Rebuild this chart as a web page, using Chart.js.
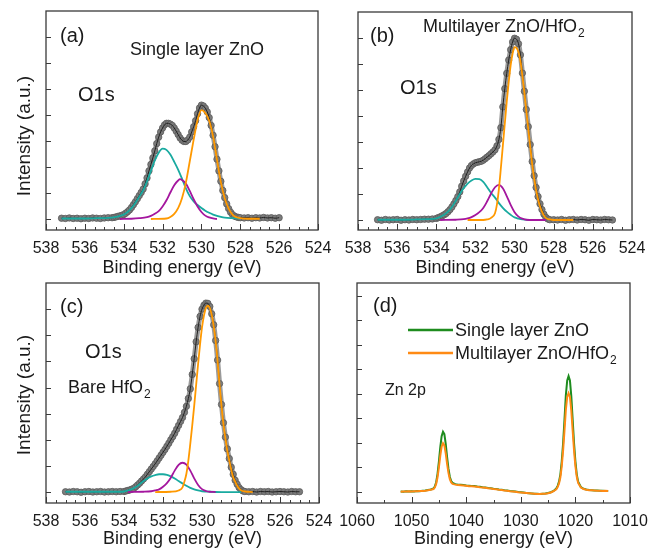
<!DOCTYPE html>
<html lang="en">
<head>
<meta charset="UTF-8" />
<title>XPS O1s and Zn 2p spectra</title>
<script src="https://cdn.jsdelivr.net/npm/chart.js@4"></script>
<style>
  body { margin: 0; background: #fff; }
  #wrap { position: relative; width: 657px; height: 554px; }
  #wrap canvas { position: absolute; left: 0; top: 0; }
</style>
</head>
<body>
<div id="wrap">
  <canvas id="pa" width="657" height="554"></canvas>
  <canvas id="pb" width="657" height="554"></canvas>
  <canvas id="pc" width="657" height="554"></canvas>
  <canvas id="pd" width="657" height="554"></canvas>
</div>
<script>
// (a) single layer ZnO, O1s: measured points
const eA = [537.2, 537.0, 536.8, 536.6, 536.4, 536.2, 536.0, 535.8, 535.6, 535.4, 535.2, 535.0, 534.8, 534.6,
  534.5, 534.4, 534.3, 534.2, 534.1, 534.0, 533.9, 533.8, 533.7, 533.6, 533.5, 533.4, 533.3, 533.2, 533.1, 533.0,
  532.9, 532.8, 532.7, 532.6, 532.5, 532.4, 532.3, 532.2, 532.1, 532.0,
  531.9, 531.8, 531.7, 531.6, 531.5, 531.4, 531.3, 531.2, 531.1, 531.0,
  530.9, 530.8, 530.7, 530.6, 530.5, 530.4, 530.3, 530.2, 530.1, 530.0,
  529.9, 529.8, 529.7, 529.6, 529.5, 529.4, 529.3, 529.2, 529.1, 529.0,
  528.9, 528.8, 528.7, 528.6, 528.5, 528.4, 528.3, 528.2, 528.1, 528.0,
  527.8, 527.6, 527.4, 527.2, 527.0, 526.8, 526.6, 526.4, 526.2, 526.0];
const iA = [0.03, 0.02, 0.04, 0.02, 0.03, 0.01, 0.03, 0.02, 0.04, 0.03, 0.02, 0.04, 0.05, 0.05,
  0.06, 0.08, 0.10, 0.12, 0.14, 0.17, 0.22, 0.28, 0.35, 0.44, 0.55, 0.66, 0.78, 0.90, 1.02, 1.15,
  1.35, 1.58, 1.85, 2.10, 2.35, 2.62, 2.90, 3.15, 3.35, 3.50,
  3.62, 3.68, 3.68, 3.65, 3.60, 3.50, 3.38, 3.25, 3.12, 3.03,
  2.98, 2.98, 3.04, 3.15, 3.35, 3.55, 3.78, 4.05, 4.27, 4.38,
  4.35, 4.26, 4.12, 3.90, 3.60, 3.22, 2.78, 2.30, 1.85, 1.45,
  1.10, 0.82, 0.58, 0.40, 0.26, 0.17, 0.11, 0.08, 0.06, 0.05,
  0.04, 0.05, 0.03, 0.05, 0.04, 0.06, 0.04, 0.05, 0.03, 0.05];
// (a) fitted components
const eA1 = [537.2, 536.6, 536.0, 535.4, 534.8, 534.4, 534.2, 534.0, 533.8, 533.6, 533.4, 533.2, 533.0, 532.8, 532.6, 532.4, 532.2, 532.0,
  531.8, 531.6, 531.4, 531.2, 531.0, 530.8, 530.6, 530.4, 530.2, 530.0, 529.8, 529.6, 529.4, 529.2, 529.0, 528.8, 528.4, 528.0];
const iA1 = [0.02, 0.02, 0.02, 0.03, 0.04, 0.08, 0.12, 0.17, 0.27, 0.42, 0.62, 0.86, 1.10, 1.45, 1.85, 2.25, 2.55, 2.71,
  2.66, 2.48, 2.20, 1.90, 1.55, 1.18, 0.88, 0.68, 0.54, 0.42, 0.32, 0.24, 0.17, 0.12, 0.08, 0.05, 0.03, 0.02];
const eA2 = [534.2, 533.6, 533.2, 532.8, 532.6, 532.4, 532.2, 532.0, 531.8, 531.6, 531.4, 531.2, 531.1, 531.0, 530.8, 530.6, 530.4, 530.2, 530.0, 529.8, 529.6, 529.4, 529.2];
const iA2 = [0.0, 0.01, 0.03, 0.07, 0.12, 0.20, 0.30, 0.48, 0.72, 1.02, 1.30, 1.48, 1.53, 1.50, 1.36, 1.08, 0.76, 0.48, 0.27, 0.13, 0.06, 0.02, 0.0];
const eA3 = [532.6, 531.8, 531.6, 531.4, 531.2, 531.0, 530.8, 530.6, 530.4, 530.2, 530.0, 529.8, 529.6, 529.4, 529.2, 529.0, 528.8, 528.6, 528.4, 528.2, 528.0, 527.6, 527.0];
const iA3 = [0.0, 0.02, 0.08, 0.20, 0.42, 0.80, 1.40, 2.22, 3.05, 3.80, 4.19, 4.08, 3.78, 3.18, 2.28, 1.42, 0.80, 0.40, 0.17, 0.07, 0.03, 0.01, 0.01];

// (b) multilayer ZnO/HfO2, O1s
const eB = [537.0, 536.8, 536.6, 536.4, 536.2, 536.0, 535.8, 535.6, 535.4, 535.2, 535.0, 534.8, 534.6, 534.4, 534.2,
  534.0, 533.9, 533.8, 533.7, 533.6, 533.5, 533.4, 533.3, 533.2, 533.1,
  533.0, 532.9, 532.8, 532.7, 532.6, 532.5, 532.4, 532.3, 532.2, 532.1,
  532.0, 531.9, 531.8, 531.7, 531.6, 531.5, 531.4, 531.3, 531.2, 531.1,
  531.0, 530.9, 530.8, 530.7, 530.6, 530.5, 530.4, 530.3, 530.2, 530.1,
  530.0, 529.9, 529.8, 529.7, 529.6, 529.5, 529.4, 529.3, 529.2, 529.1,
  529.0, 528.9, 528.8, 528.7, 528.6, 528.5, 528.4, 528.3, 528.2,
  528.0, 527.8, 527.6, 527.4, 527.2, 527.0, 526.8, 526.6, 526.4, 526.2, 526.0, 525.8, 525.6, 525.4, 525.2, 525.0];
const iB = [0.01, -0.01, 0.02, 0.0, 0.01, 0.02, -0.01, 0.01, 0.0, 0.02, 0.01, 0.02, 0.03, 0.03, 0.04,
  0.06, 0.09, 0.12, 0.16, 0.20, 0.25, 0.32, 0.40, 0.50, 0.62,
  0.75, 0.90, 1.08, 1.30, 1.50, 1.68, 1.85, 2.00, 2.10, 2.16,
  2.20, 2.22, 2.24, 2.26, 2.30, 2.36, 2.42, 2.48, 2.55, 2.62,
  2.70, 2.85, 3.10, 3.55, 4.35, 5.05, 5.64, 6.15, 6.55, 6.85,
  6.99, 6.95, 6.78, 6.35, 5.65, 4.95, 4.25, 3.59, 2.90, 2.25,
  1.70, 1.25, 0.90, 0.62, 0.40, 0.22, 0.10, 0.04, 0.01,
  0.01, 0.0, 0.02, -0.01, 0.01, 0.02, 0.0, 0.02, 0.01, -0.01, 0.02, 0.01, 0.0, 0.02, 0.01, 0.0];
const eB1 = [537.0, 536.0, 535.0, 534.4, 534.2, 534.0, 533.8, 533.6, 533.4, 533.2, 533.0, 532.8, 532.6, 532.4, 532.2,
  532.0, 531.8, 531.6, 531.4, 531.2, 531.0, 530.8, 530.6, 530.4, 530.2, 530.0, 529.8, 529.6, 529.0, 528.4];
const iB1 = [0.01, 0.01, 0.02, 0.03, 0.04, 0.06, 0.12, 0.20, 0.32, 0.50, 0.74, 1.00, 1.22, 1.40, 1.52,
  1.58, 1.57, 1.47, 1.26, 1.04, 0.86, 0.65, 0.47, 0.32, 0.20, 0.10, 0.05, 0.02, 0.0, 0.0];
const eB2 = [533.8, 533.0, 532.6, 532.4, 532.2, 532.0, 531.8, 531.6, 531.4, 531.2, 531.0, 530.8, 530.6, 530.4, 530.2, 530.0, 529.8, 529.6, 529.4, 529.0, 528.4];
const iB2 = [0.0, 0.01, 0.03, 0.06, 0.11, 0.19, 0.30, 0.46, 0.72, 1.02, 1.26, 1.35, 1.22, 0.92, 0.58, 0.30, 0.13, 0.05, 0.01, 0.0, 0.0];
const eB3 = [532.4, 531.6, 531.4, 531.2, 531.0, 530.9, 530.8, 530.7, 530.6, 530.5, 530.4, 530.3, 530.2, 530.1, 530.0,
  529.9, 529.8, 529.7, 529.6, 529.5, 529.4, 529.3, 529.2, 529.1, 529.0, 528.9, 528.8, 528.7, 528.6, 528.5, 528.4, 528.2, 528.0, 527.0];
const iB3 = [0.0, 0.0, 0.02, 0.08, 0.26, 0.60, 1.20, 2.00, 2.85, 3.70, 4.55, 5.30, 5.95, 6.40, 6.65,
  6.62, 6.45, 6.10, 5.55, 4.90, 4.20, 3.50, 2.80, 2.15, 1.60, 1.15, 0.80, 0.52, 0.32, 0.17, 0.08, 0.02, 0.0, 0.0];

// (c) bare HfO2, O1s
const eC = [537.0, 536.8, 536.6, 536.4, 536.2, 536.0, 535.8, 535.6, 535.4, 535.2, 535.0, 534.8, 534.6, 534.4, 534.2,
  534.0, 533.9, 533.8, 533.7, 533.6, 533.5, 533.4, 533.3, 533.2, 533.1,
  533.0, 532.9, 532.8, 532.7, 532.6, 532.5, 532.4, 532.3, 532.2, 532.1,
  532.0, 531.9, 531.8, 531.7, 531.6, 531.5, 531.4, 531.3, 531.2, 531.1,
  531.0, 530.9, 530.8, 530.7, 530.6, 530.5, 530.4, 530.3, 530.2, 530.1,
  530.0, 529.9, 529.8, 529.7, 529.6, 529.5, 529.4, 529.3, 529.2, 529.1,
  529.0, 528.9, 528.8, 528.7, 528.6, 528.5, 528.4, 528.3, 528.2, 528.1, 528.0, 527.9,
  527.8, 527.6, 527.4, 527.2, 527.0, 526.8, 526.6, 526.4, 526.2, 526.0, 525.8, 525.6, 525.4, 525.2, 525.0];
const iC = [0.01, 0.0, 0.02, 0.01, -0.01, 0.01, 0.02, 0.0, 0.01, 0.02, 0.0, 0.01, 0.02, 0.01, 0.02,
  0.02, 0.04, 0.06, 0.08, 0.11, 0.14, 0.20, 0.27, 0.34, 0.42,
  0.50, 0.58, 0.68, 0.78, 0.88, 0.98, 1.08, 1.19, 1.30, 1.41,
  1.52, 1.63, 1.75, 1.87, 2.00, 2.12, 2.25, 2.40, 2.55, 2.70,
  2.85, 3.05, 3.28, 3.58, 3.95, 4.50, 5.10, 5.75, 6.30, 6.72,
  7.00, 7.15, 7.23, 7.22, 7.10, 6.82, 6.40, 5.80, 5.05, 4.15,
  3.35, 2.65, 2.10, 1.65, 1.28, 0.95, 0.68, 0.45, 0.30, 0.17, 0.09, 0.04,
  0.02, 0.01, 0.02, 0.0, 0.02, 0.01, 0.02, 0.0, 0.01, 0.02, 0.01, 0.0, 0.02, 0.01, 0.01];
const eC1 = [537.0, 536.0, 535.0, 534.4, 534.2, 534.0, 533.8, 533.6, 533.4, 533.2, 533.0, 532.8, 532.6, 532.4, 532.2,
  532.0, 531.8, 531.6, 531.4, 531.2, 531.0, 530.8, 530.6, 530.4, 530.2, 530.0, 529.6, 529.0, 528.0];
const iC1 = [0.01, 0.01, 0.01, 0.01, 0.01, 0.02, 0.06, 0.11, 0.19, 0.30, 0.42, 0.52, 0.60, 0.65, 0.68,
  0.68, 0.66, 0.60, 0.52, 0.42, 0.33, 0.24, 0.16, 0.10, 0.06, 0.03, 0.01, 0.0, 0.0];
const eC2 = [533.8, 533.0, 532.6, 532.4, 532.2, 532.0, 531.8, 531.6, 531.4, 531.2, 531.0, 530.8, 530.6, 530.4, 530.2, 530.0, 529.8, 529.6, 529.3];
const iC2 = [0.0, 0.01, 0.03, 0.06, 0.10, 0.20, 0.34, 0.55, 0.82, 1.04, 1.12, 1.05, 0.82, 0.52, 0.27, 0.11, 0.04, 0.01, 0.0];
const eC3 = [532.4, 531.6, 531.2, 531.0, 530.9, 530.8, 530.7, 530.6, 530.5, 530.4, 530.3, 530.2, 530.1, 530.0,
  529.9, 529.8, 529.7, 529.6, 529.5, 529.4, 529.3, 529.2, 529.1, 529.0,
  528.9, 528.8, 528.7, 528.6, 528.5, 528.4, 528.3, 528.2, 528.1, 528.0, 527.8, 527.4];
const iC3 = [0.0, 0.01, 0.06, 0.18, 0.40, 0.70, 1.20, 1.85, 2.55, 3.30, 4.10, 4.90, 5.65, 6.30,
  6.75, 7.05, 7.13, 7.05, 6.78, 6.35, 5.77, 5.00, 4.10, 3.30,
  2.60, 2.05, 1.57, 1.20, 0.86, 0.57, 0.40, 0.25, 0.14, 0.07, 0.02, 0.0];

// (d) Zn 2p, both samples on one energy grid
const eD = [1052, 1051.5, 1051, 1050.5, 1050, 1049.5, 1049, 1048.5, 1048, 1047.5,
  1047, 1046.5, 1046, 1045.75, 1045.5, 1045.25, 1045, 1044.75, 1044.5, 1044.25,
  1044, 1043.75, 1043.5, 1043.25, 1043, 1042.75, 1042.5, 1042, 1041.5, 1041,
  1040.5, 1040, 1039.5, 1039, 1038.5, 1038, 1037.5, 1037, 1036.5, 1036,
  1035.5, 1035, 1034.5, 1034, 1033.5, 1033, 1032.5, 1032, 1031.5, 1031,
  1030.5, 1030, 1029.5, 1029, 1028.5, 1028, 1027.5, 1027, 1026.5, 1026,
  1025.5, 1025, 1024.5, 1024, 1023.5, 1023.25, 1023, 1022.75, 1022.5, 1022.25,
  1022, 1021.75, 1021.5, 1021.25, 1021, 1020.75, 1020.5, 1020.25, 1020, 1019.75,
  1019.5, 1019, 1018.5, 1018, 1017.5, 1017, 1016.5, 1016, 1015.5, 1015,
  1014.5, 1014];
const singleZn = [0.02, 0.01, 0.03, 0.02, 0.03, 0.02, 0.04, 0.03, 0.05, 0.06,
  0.08, 0.10, 0.14, 0.22, 0.40, 0.74, 1.24, 1.82, 2.28, 2.46,
  2.36, 1.96, 1.42, 0.95, 0.62, 0.45, 0.37, 0.32, 0.30, 0.29,
  0.28, 0.26, 0.25, 0.24, 0.24, 0.22, 0.21, 0.19, 0.18, 0.16,
  0.15, 0.13, 0.12, 0.10, 0.09, 0.07, 0.06, 0.04, 0.03, 0.02,
  0.00, -0.01, -0.02, -0.04, -0.05, -0.06, -0.07, -0.07, -0.08, -0.07,
  -0.06, -0.04, -0.01, 0.04, 0.14, 0.25, 0.42, 0.72, 1.25, 2.00,
  2.95, 3.95, 4.55, 4.73, 4.55, 3.90, 2.95, 2.00, 1.25, 0.72,
  0.42, 0.20, 0.13, 0.10, 0.08, 0.07, 0.06, 0.06, 0.05, 0.05,
  0.04, 0.04];
const multiZn = [0.01, 0.02, 0.02, 0.03, 0.02, 0.03, 0.03, 0.04, 0.04, 0.05,
  0.07, 0.09, 0.12, 0.18, 0.33, 0.60, 1.00, 1.47, 1.85, 1.99,
  1.90, 1.58, 1.15, 0.78, 0.52, 0.39, 0.33, 0.30, 0.28, 0.27,
  0.26, 0.25, 0.23, 0.23, 0.22, 0.21, 0.19, 0.18, 0.17, 0.15,
  0.14, 0.12, 0.11, 0.09, 0.08, 0.06, 0.05, 0.03, 0.02, 0.01,
  -0.01, -0.02, -0.03, -0.04, -0.05, -0.06, -0.07, -0.08, -0.08, -0.07,
  -0.07, -0.05, -0.02, 0.03, 0.11, 0.20, 0.35, 0.60, 1.05, 1.70,
  2.50, 3.35, 3.88, 4.03, 3.88, 3.32, 2.50, 1.70, 1.05, 0.62,
  0.37, 0.18, 0.12, 0.09, 0.07, 0.07, 0.06, 0.05, 0.05, 0.04,
  0.05, 0.04];

const FONT = '"Liberation Sans", Arial, Helvetica, sans-serif';
const INK = '#1a1a1a';
const TEAL = '#19aaa0', MAGENTA = '#a4169e', ORANGE = '#ff9900';
const GREEN = '#1e8c1e', ORANGE_D = '#ff8a14';

Chart.defaults.font.family = FONT;
Chart.defaults.color = INK;

function xy(es, vs) {
  return es.map((e, i) => ({ x: e, y: vs[i] }));
}

// box, inward ticks and the in-plot text of each panel
const framePlugin = {
  id: 'frame',
  afterDraw(chart, args, o) {
    const { ctx, chartArea: a, scales: { x, y } } = chart;
    ctx.save();
    ctx.strokeStyle = '#3a3a3a';
    ctx.lineWidth = 1.3;
    ctx.strokeRect(a.left, a.top, a.right - a.left, a.bottom - a.top);

    ctx.beginPath();
    const n = Math.round((x.max - x.min) / o.minor);
    for (let i = 0; i <= n; i++) {
      const v = x.min + i * o.minor;
      const major = Math.abs(v / o.major - Math.round(v / o.major)) < 1e-6;
      const px = Math.round(x.getPixelForValue(v)) + 0.5;
      ctx.moveTo(px, a.bottom);
      ctx.lineTo(px, a.bottom - (major ? 6 : 3));
    }
    o.yTicks.forEach(v => {
      const py = Math.round(y.getPixelForValue(v)) + 0.5;
      ctx.moveTo(a.left, py);
      ctx.lineTo(a.left + 5, py);
    });
    ctx.lineWidth = 1;
    ctx.stroke();

    (o.keys || []).forEach(k => {
      ctx.beginPath();
      ctx.strokeStyle = k.color;
      ctx.lineWidth = 2.5;
      ctx.moveTo(k.x1, k.y);
      ctx.lineTo(k.x2, k.y);
      ctx.stroke();
    });

    ctx.fillStyle = INK;
    o.labels.forEach(t => {
      ctx.font = t.size + 'px ' + FONT;
      if (t.rotate) {
        ctx.save();
        ctx.translate(t.x, t.y);
        ctx.rotate(-Math.PI / 2);
        ctx.textAlign = 'center';
        ctx.textBaseline = 'middle';
        ctx.fillText(t.text, 0, 0);
        ctx.restore();
        return;
      }
      ctx.textAlign = 'left';
      ctx.textBaseline = 'alphabetic';
      ctx.fillText(t.text, t.x, t.y);
      if (t.sub) {
        const w = ctx.measureText(t.text).width;
        ctx.font = Math.round(t.size * 0.65) + 'px ' + FONT;
        ctx.fillText(t.sub, t.x + w + 1, t.y + t.size * 0.28);
      }
    });
    ctx.restore();
  }
};

function o1sSets(e, v, e1, v1, e2, v2, e3, v3) {
  const comp = (data, color, order) => ({
    data, showLine: true, borderColor: color, borderWidth: 1.8,
    pointRadius: 0, cubicInterpolationMode: 'monotone', order
  });
  return [
    comp(xy(e3, v3), ORANGE, 1),
    comp(xy(e2, v2), MAGENTA, 2),
    comp(xy(e1, v1), TEAL, 3),
    // thin envelope through the measured points
    { data: xy(e, v), showLine: true, borderColor: '#202020', borderWidth: 1,
      pointRadius: 0, cubicInterpolationMode: 'monotone', order: 4 },
    // measured points, on a soft grey band
    { data: xy(e, v), showLine: true, borderColor: 'rgba(120,120,120,0.75)', borderWidth: 5,
      cubicInterpolationMode: 'monotone', pointRadius: 3.2, pointBackgroundColor: '#7c7c7c',
      pointBorderColor: '#5a5a5a', pointBorderWidth: 0.8, order: 5 }
  ];
}

function panel(id, datasets, cfg) {
  return new Chart(document.getElementById(id), {
    type: 'scatter',
    data: { datasets },
    options: {
      responsive: false,
      animation: false,
      devicePixelRatio: 1,
      layout: { padding: cfg.pad },
      plugins: { legend: { display: false }, tooltip: { enabled: false }, frame: cfg.frame },
      scales: {
        x: {
          type: 'linear', reverse: true, min: cfg.xmin, max: cfg.xmax,
          afterFit: s => { s.height = cfg.xh; },
          grid: { display: false, drawTicks: false },
          border: { display: false },
          ticks: { stepSize: cfg.step, autoSkip: false, maxRotation: 0, padding: 9,
            color: INK, font: { size: 16 }, callback: v => String(v) },
          title: { display: true, text: 'Binding energy (eV)', color: INK,
            font: { size: 18 }, padding: { top: 0, bottom: 1 } }
        },
        y: { display: false, min: cfg.ymin, max: cfg.ymax }
      }
    },
    plugins: [framePlugin]
  });
}

const o1sTicks = [0, 1, 2, 3, 4, 5, 6, 7];

panel('pa', o1sSets(eA, iA, eA1, iA1, eA2, iA2, eA3, iA3), {
  pad: { left: 46, top: 11, right: 339, bottom: 274 }, xh: 50,
  xmin: 524, xmax: 538, step: 2, ymin: -0.423, ymax: 8.0,
  frame: { major: 2, minor: 0.5, yTicks: o1sTicks, labels: [
    { text: '(a)', x: 60, y: 42, size: 20 },
    { text: 'Single layer ZnO', x: 130, y: 55, size: 18 },
    { text: 'O1s', x: 78, y: 101, size: 20 },
    { text: 'Intensity (a.u.)', x: 25, y: 136, size: 19, rotate: true }
  ] }
});

panel('pb', o1sSets(eB, iB, eB1, iB1, eB2, iB2, eB3, iB3), {
  pad: { left: 358, top: 12, right: 25, bottom: 274 }, xh: 50,
  xmin: 524, xmax: 538, step: 2, ymin: -0.385, ymax: 8.0,
  frame: { major: 2, minor: 0.5, yTicks: o1sTicks, labels: [
    { text: '(b)', x: 370, y: 42, size: 20 },
    { text: 'Multilayer ZnO/HfO', sub: '2', x: 423, y: 32, size: 18 },
    { text: 'O1s', x: 400, y: 94, size: 20 }
  ] }
});

panel('pc', o1sSets(eC, iC, eC1, iC1, eC2, iC2, eC3, iC3), {
  pad: { left: 46, top: 283, right: 338, bottom: 3 }, xh: 48,
  xmin: 524, xmax: 538, step: 2, ymin: -0.42, ymax: 8.0,
  frame: { major: 2, minor: 0.5, yTicks: o1sTicks, labels: [
    { text: '(c)', x: 60, y: 313, size: 20 },
    { text: 'O1s', x: 85, y: 358, size: 20 },
    { text: 'Bare HfO', sub: '2', x: 68, y: 393, size: 18 },
    { text: 'Intensity (a.u.)', x: 25, y: 395, size: 19, rotate: true }
  ] }
});

panel('pd', [
  { data: xy(eD, multiZn), showLine: true, borderColor: ORANGE_D, borderWidth: 2, pointRadius: 0, order: 1 },
  { data: xy(eD, singleZn), showLine: true, borderColor: GREEN, borderWidth: 2, pointRadius: 0, order: 2 }
], {
  pad: { left: 357, top: 283, right: 27, bottom: 3 }, xh: 48,
  xmin: 1010, xmax: 1060, step: 10, ymin: -0.45, ymax: 8.53,
  frame: { major: 10, minor: 5, yTicks: [0, 1, 2, 3, 4, 5, 6, 7, 8],
    keys: [
      { color: GREEN, x1: 408, x2: 453, y: 330 },
      { color: ORANGE_D, x1: 408, x2: 453, y: 353 }
    ],
    labels: [
      { text: '(d)', x: 373, y: 312, size: 20 },
      { text: 'Single layer ZnO', x: 455, y: 336, size: 18 },
      { text: 'Multilayer ZnO/HfO', sub: '2', x: 455, y: 359, size: 18 },
      { text: 'Zn 2p', x: 385, y: 395, size: 16 }
    ] }
});
</script>
</body>
</html>
